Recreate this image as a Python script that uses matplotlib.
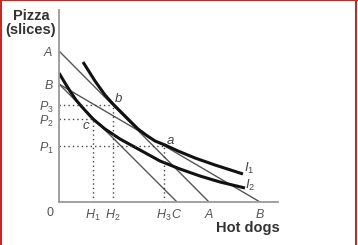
import matplotlib
matplotlib.use("Agg")
import matplotlib.pyplot as plt
from matplotlib.lines import Line2D

plt.rcParams["font.family"] = ["Liberation Sans", "DejaVu Sans"]
plt.rcParams["mathtext.fontset"] = "custom"
plt.rcParams["mathtext.it"] = "Liberation Sans:italic"
plt.rcParams["mathtext.rm"] = "Liberation Sans"

# budget line intercepts (pizza, hot dogs)
A_pizza, A_dogs = 15.1, 15.0
B_pizza, B_dogs = 11.8, 20.1
C_dogs = 11.8

# indifference curves
i1_x = [2.4, 3.6, 4.6, 5.4, 6.3, 7.1, 7.9, 8.7, 9.6, 10.6, 11.9, 13.6, 15.6, 18.4]
i1_y = [14.0, 12.1, 10.7, 9.8, 8.9, 8.1, 7.3, 6.7, 6.1, 5.7, 5.1, 4.4, 3.7, 2.8]
i2_x = [0.0, 0.6, 1.1, 1.7, 2.3, 3.4, 4.6, 6.1, 8.1, 10.1, 12.1, 14.1, 16.1, 18.6]
i2_y = [12.9, 11.9, 11.1, 10.2, 9.5, 8.3, 7.3, 6.3, 5.2, 4.1, 3.3, 2.6, 2.0, 1.4]

# bundles
H1, H2, H3 = 3.4, 5.4, 10.5
P1, P2, P3 = 5.6, 8.3, 9.7

fig = plt.figure(figsize=(3.58, 2.45), dpi=100)
ax = fig.add_axes([59 / 358, 43 / 245, 219 / 358, 192 / 245])
ax.set_xlim(0, 21.9)
ax.set_ylim(0, 19.2)
for s in ["top", "right"]:
    ax.spines[s].set_visible(False)
for s in ["left", "bottom"]:
    ax.spines[s].set_color("#9a9a9a")
    ax.spines[s].set_linewidth(1.3)

thin = dict(color="#555555", lw=1.0)
ax.plot([0, A_dogs], [A_pizza, 0], **thin)
ax.plot([0, B_dogs], [B_pizza, 0], **thin)
ax.plot([0, C_dogs], [B_pizza, 0], **thin)

ax.plot(i1_x, i1_y, color="#111111", lw=2.2, solid_capstyle="butt")
ax.plot(i2_x, i2_y, color="#111111", lw=2.2, solid_capstyle="butt")

dot = dict(color="#444444", lw=1.0, ls=(0, (1, 2.2)))
ax.plot([0, H2], [P3, P3], **dot)
ax.plot([H2, H2], [0, P3], **dot)
ax.plot([0, H1], [P2, P2], **dot)
ax.plot([H1, H1], [0, P2], **dot)
ax.plot([0, H3], [P1, P1], **dot)
ax.plot([H3, H3], [0, P1], **dot)

ax.set_xticks([H1, H2, H3, C_dogs, A_dogs, B_dogs],
              ["$H_1$", "$H_2$", "$H_3$", "$C$", "$A$", "$B$"])
ax.set_yticks([A_pizza, B_pizza, P3, P2, P1],
              ["$A$", "$B$", "$P_3$", "$P_2$", "$P_1$"])
ax.tick_params(length=0, labelsize=9, labelcolor="#555555", pad=4)

lab = dict(fontsize=9.5, color="#444444", ha="center", va="center")
ax.text(11.1, 6.1, "$a$", **lab)
ax.text(5.9, 10.3, "$b$", **lab)
ax.text(2.7, 7.6, "$c$", **lab)
ax.text(19.0, 3.4, "$I_1$", **lab)
ax.text(19.1, 1.7, "$I_2$", **lab)

fig.text(50 / 358, 1 - 213 / 245, "0", fontsize=9, color="#555555",
         ha="center", va="center")
fig.text(31 / 358, 1 - 23 / 245, "Pizza\n(slices)", fontsize=10.5, weight="bold",
         color="#333333", ha="center", va="center", linespacing=1.0)
fig.text(248 / 358, 1 - 228 / 245, "Hot dogs", fontsize=10.5, weight="bold",
         color="#333333", ha="center", va="center")

# red frame on left, top, right
red = "#c62828"
fig.add_artist(Line2D([0.5 / 358, 0.5 / 358], [0, 1], color=red, lw=1.5))
fig.add_artist(Line2D([0, 357 / 358], [1 - 0.5 / 245, 1 - 0.5 / 245], color=red, lw=1.5))
fig.add_artist(Line2D([356 / 358, 356 / 358], [0, 1], color=red, lw=1.5))

fig.savefig("out.png", dpi=100)
